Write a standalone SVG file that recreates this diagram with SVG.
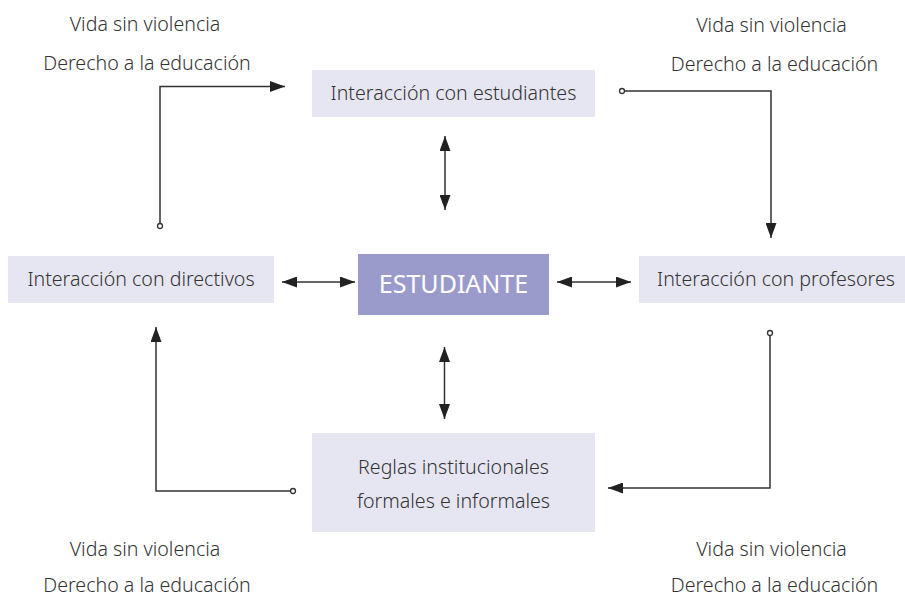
<svg xmlns="http://www.w3.org/2000/svg" width="905" height="597" viewBox="0 0 905 597">
<style>
.box{fill:#e6e6f2}
.core{fill:#9b9bcb}
.t{font-family:"Noto Sans","Open Sans","Liberation Sans",sans-serif;font-size:19.6px;font-weight:300;fill:#333;text-anchor:middle}
.big{font-family:"Noto Sans","Open Sans","Liberation Sans",sans-serif;font-size:25px;fill:#fff;text-anchor:middle}
.ln{fill:none;stroke:#333;stroke-width:1.5}
.dot{fill:#fff;stroke:#333;stroke-width:1.3}
</style>
<defs>
<marker id="ah" viewBox="0 0 15 11" refX="15" refY="5.5" markerWidth="15" markerHeight="11" markerUnits="userSpaceOnUse" orient="auto-start-reverse">
<path d="M0,0 L15,5.5 L0,11 z" fill="#222"/>
</marker>
</defs>
<g id="labels">
<text class="t" x="145" y="31">Vida sin violencia</text>
<text class="t" x="147" y="70">Derecho a la educación</text>
<text class="t" x="771.5" y="32">Vida sin violencia</text>
<text class="t" x="774.5" y="71">Derecho a la educación</text>
<text class="t" x="145" y="556">Vida sin violencia</text>
<text class="t" x="147" y="592">Derecho a la educación</text>
<text class="t" x="771.5" y="556">Vida sin violencia</text>
<text class="t" x="774.5" y="592">Derecho a la educación</text>
</g>
<g id="n-estudiantes">
<rect class="box" x="312" y="70" width="283" height="47"/>
<text class="t" x="453.5" y="100">Interacción con estudiantes</text>
</g>
<g id="n-directivos">
<rect class="box" x="8" y="256" width="266" height="47"/>
<text class="t" x="141" y="286">Interacción con directivos</text>
</g>
<g id="n-profesores">
<rect class="box" x="639" y="256" width="266" height="47"/>
<text class="t" x="776" y="286">Interacción con profesores</text>
</g>
<g id="n-estudiante">
<rect class="core" x="358" y="254" width="191" height="61"/>
<text class="big" x="453.5" y="293">ESTUDIANTE</text>
</g>
<g id="n-reglas">
<rect class="box" x="312" y="433" width="283" height="99"/>
<text class="t" x="453.5" y="474">Reglas institucionales</text>
<text class="t" x="453.5" y="508">formales e informales</text>
</g>
<g id="connectors">
<path class="ln" d="M160,223.5 V86.5 H285" marker-end="url(#ah)"/>
<circle class="dot" cx="160" cy="226" r="2.5"/>
<path class="ln" d="M624.5,91 H771 V238" marker-end="url(#ah)"/>
<circle class="dot" cx="622" cy="91" r="2.5"/>
<path class="ln" d="M770,335.5 V488 H608" marker-end="url(#ah)"/>
<circle class="dot" cx="770" cy="333" r="2.5"/>
<path class="ln" d="M290.5,491 H156 V327" marker-end="url(#ah)"/>
<circle class="dot" cx="293" cy="491" r="2.5"/>
<path class="ln" d="M445,136 V210" marker-start="url(#ah)" marker-end="url(#ah)"/>
<path class="ln" d="M444.5,347 V419" marker-start="url(#ah)" marker-end="url(#ah)"/>
<path class="ln" d="M282,282 H355" marker-start="url(#ah)" marker-end="url(#ah)"/>
<path class="ln" d="M557,282 H631" marker-start="url(#ah)" marker-end="url(#ah)"/>
</g>
</svg>
